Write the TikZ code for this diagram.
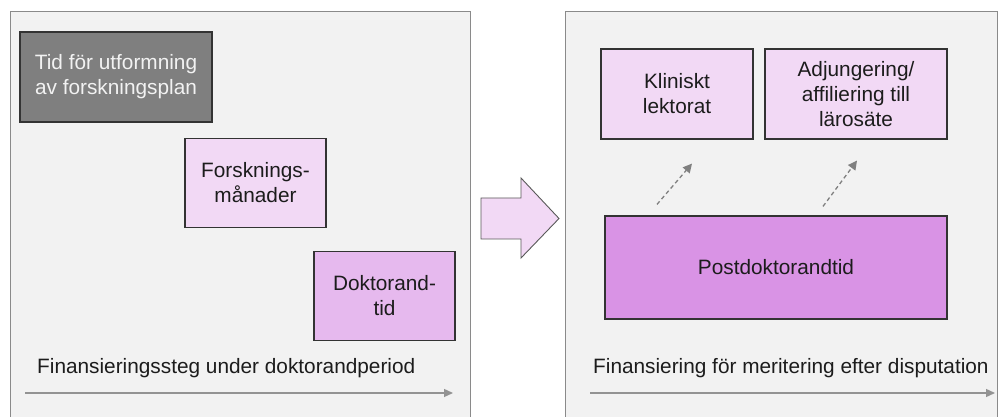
\documentclass[tikz,border=0pt]{standalone}
\usepackage{fontspec}
\setmainfont{Liberation Sans}
\usetikzlibrary{arrows.meta}

\definecolor{panelgray}{HTML}{F2F2F2}
\definecolor{edgegray}{HTML}{8A8A8A}
\definecolor{plangray}{HTML}{7F7F7F}
\definecolor{lilaclight}{HTML}{F2D9F5}
\definecolor{lilacmid}{HTML}{E6B9EE}
\definecolor{lilacdark}{HTML}{D993E5}
\definecolor{textdark}{HTML}{1C1C1C}

\tikzstyle{panel} = [draw=edgegray, fill=panelgray, line width=1pt]
\tikzstyle{stage} = [rectangle, draw=black!80, line width=1.2pt, text centered, align=center, inner sep=0pt, text=textdark, font=\fontsize{20.8}{25}\selectfont]
\tikzstyle{planbox} = [stage, fill=plangray, text=panelgray, minimum width=192pt, minimum height=90pt]
\tikzstyle{fundbox} = [stage, fill=lilaclight, minimum width=141pt, minimum height=89pt]
\tikzstyle{phdbox} = [stage, fill=lilacmid, minimum width=141pt, minimum height=89pt]
\tikzstyle{postbox} = [stage, fill=lilacdark, minimum width=342pt, minimum height=103pt]
\tikzstyle{meritbox} = [stage, fill=lilaclight, minimum height=90pt]
\tikzstyle{caption} = [anchor=west, inner sep=0pt, text=textdark, font=\fontsize{20.8}{25}\selectfont]
\tikzstyle{timeline} = [draw=gray!85, line width=1.3pt, -{Triangle[length=9pt,width=8pt]}]
\tikzstyle{leadsto} = [draw=gray, line width=1.3pt, dashed, dash pattern=on 4pt off 3pt, -{Triangle[length=9pt,width=9pt]}]
\tikzstyle{shiftarrow} = [draw=black!65, fill=lilaclight, line width=0.9pt]

\begin{document}
\begin{tikzpicture}[x=1pt, y=1pt, node distance=106pt]
	\useasboundingbox (0,0) rectangle (998,417);

	% the two panels
	\draw [panel] (10,-5) rectangle (470,405);
	\draw [panel] (565,-5) rectangle (997.5,405);

	% left panel: steps during the doctoral period
	\node (plan) [planbox] at (116,340) {Tid för utformning\\av forskningsplan};
	\node (forsk) [fundbox, below of=plan, xshift=139.5pt] {Forsknings-\\månader};
	\node (dokt) [phdbox, below of=forsk, xshift=129pt, yshift=-7pt] {Doktorand-\\tid};

	\node (cap1) [caption] at (37,49) {Finansieringssteg under doktorandperiod};
	\coordinate (t1s) at (25,24);
	\coordinate (t1e) at (453,24);
		\draw [timeline] (t1s) -- (t1e);

	% arrow between panels
	\draw [shiftarrow] (481,219) -- (521,219) -- (521,239) -- (559,198.5) -- (521,159) -- (521,178) -- (481,178) -- cycle;

	% right panel: after the dissertation
	\node (post) [postbox] at (776,149.5) {Postdoktorandtid};
	\node (klin) [meritbox, minimum width=152pt] at (677,323) {Kliniskt\\lektorat};
	\node (adj) [meritbox, minimum width=182pt, right of=klin, xshift=73pt] {Adjungering/\\affiliering till\\lärosäte};

	\coordinate (k1) at ([xshift=-119pt, yshift=11pt]post.north);
	\coordinate (k2) at ([xshift=15pt, yshift=-24pt]klin.south);
		\draw [leadsto] (k1) -- (k2);
	\coordinate (a1) at ([xshift=47pt, yshift=9pt]post.north);
	\coordinate (a2) at ([xshift=1pt, yshift=-21pt]adj.south);
		\draw [leadsto] (a1) -- (a2);

	\node (cap2) [caption] at (593,49) {Finansiering för meritering efter disputation};
	\coordinate (t2s) at (590,24);
	\coordinate (t2e) at (995,24);
		\draw [timeline] (t2s) -- (t2e);

\end{tikzpicture}
\end{document}
